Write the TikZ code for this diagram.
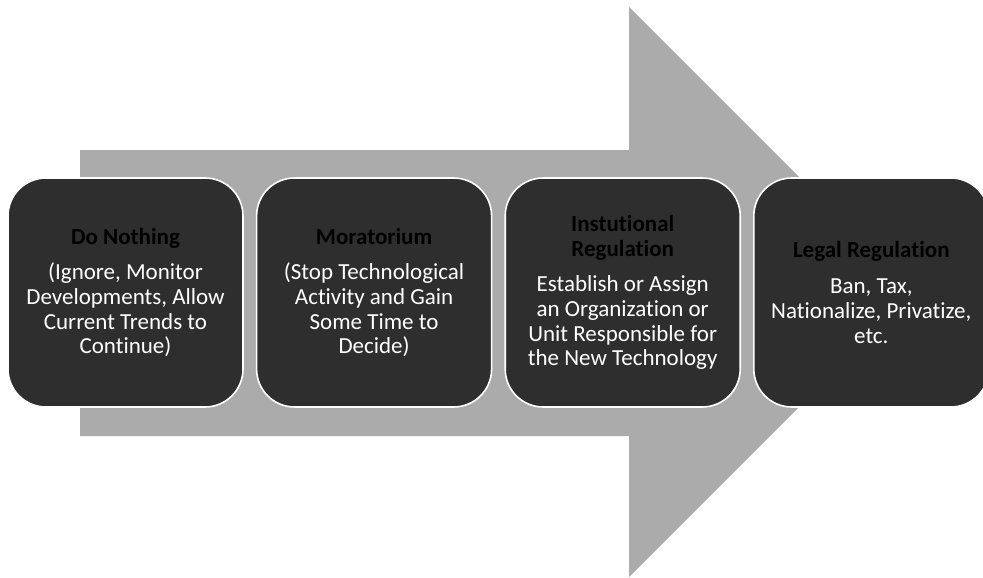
\documentclass[tikz,border=0pt]{standalone}
\usepackage{fontspec}
\setmainfont[Ligatures={NoCommon}]{Carlito}
\usepackage{tikz}
\usetikzlibrary{positioning}

\definecolor{boxgray}{HTML}{2E2E2E}
\definecolor{arrowgray}{HTML}{ABABAB}
\newcommand{\boxtitle}[1]{\textcolor{black}{\textbf{#1}}}

\begin{document}
\begin{tikzpicture}[x=1pt,y=-1pt]
\tikzstyle{every node}=[draw=white,line width=1.6pt,fill=boxgray,rounded corners=38pt,minimum width=235pt,minimum height=229pt,align=center,text=white,font=\fontsize{23}{24.7}\selectfont];
\useasboundingbox (0,0) rectangle (983,578);
% big arrow behind the boxes
\fill[arrowgray] (80,150) -- (629,150) -- (629,7) -- (914,292) -- (629,577) -- (629,436) -- (80,436) -- cycle;
\node (nothing) at (125.5,292.5) {\boxtitle{Do Nothing}\\[11pt]
	(Ignore, Monitor\\Developments, Allow\\Current Trends to\\Continue)};
\node[right=12pt of nothing] (moratorium) {\boxtitle{Moratorium}\\[11pt]
	(Stop Technological\\Activity and Gain\\Some Time to\\Decide)};
\node[right=12pt of moratorium] (institutional) {\boxtitle{Instutional}\\\boxtitle{Regulation}\\[11pt]
	Establish or Assign\\an Organization or\\Unit Responsible for\\the New Technology};
\node[right=12pt of institutional] (legal) {\boxtitle{Legal Regulation}\\[11pt]
	Ban, Tax,\\Nationalize, Privatize,\\etc.};
\end{tikzpicture}
\end{document}
